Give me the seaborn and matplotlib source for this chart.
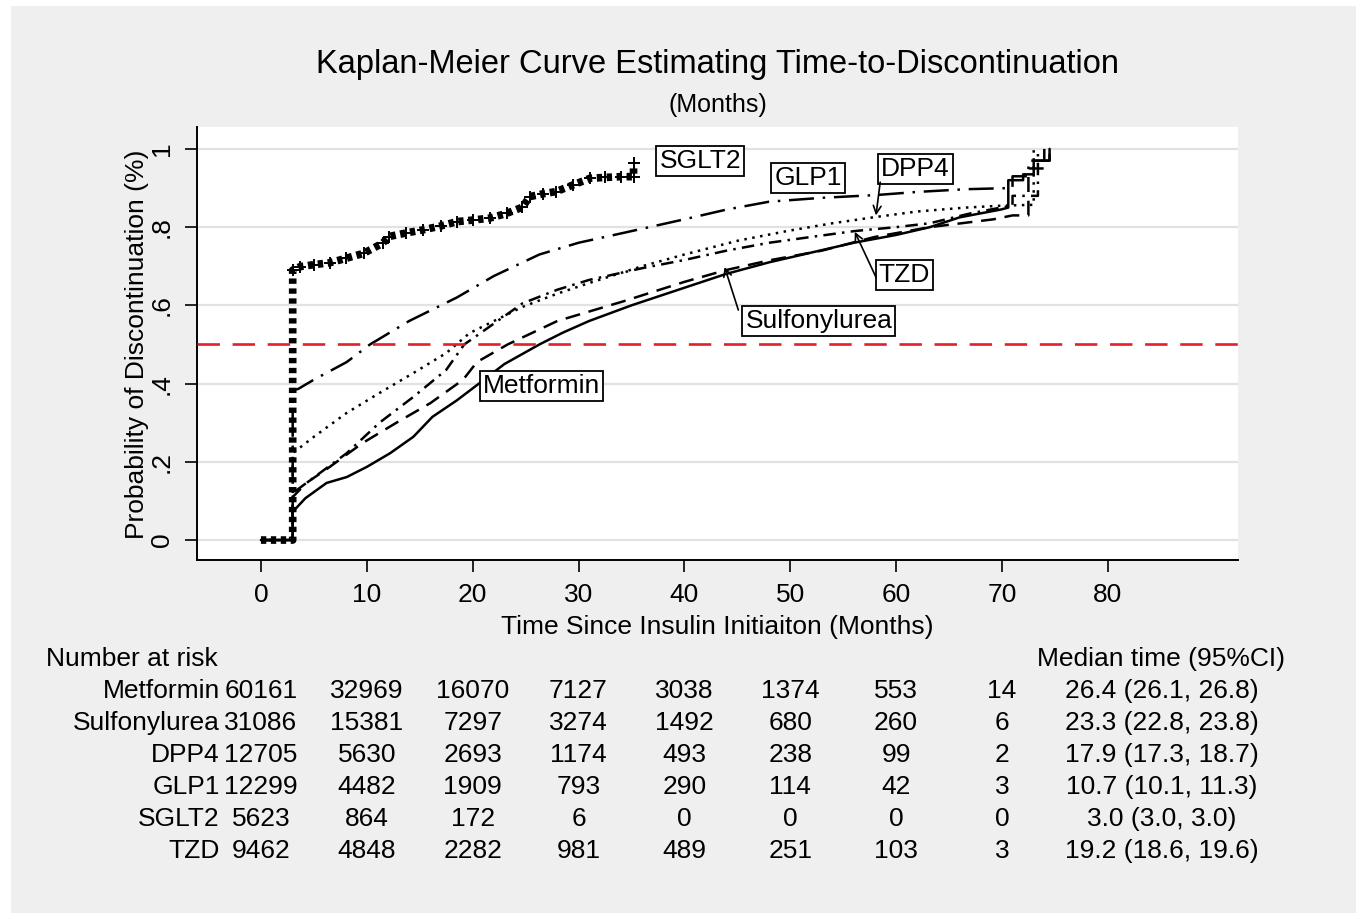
import matplotlib
matplotlib.use("Agg")
import matplotlib.pyplot as plt
import matplotlib.transforms as mtransforms
from matplotlib.patches import Rectangle
import seaborn as sns

sns.set_theme(style="white")
plt.rcParams['font.family'] = ['Liberation Sans', 'DejaVu Sans']
plt.rcParams.update({'text.color': 'black', 'axes.labelcolor': 'black',
                     'xtick.color': 'black', 'ytick.color': 'black'})

# ---- curves (months, cumulative probability) ----
metformin_t = [0, 3, 3, 4.2, 6.2, 8.1, 10, 12.2, 14.4, 16.2, 18.5, 20.4, 23, 26.3, 28.5, 31, 35,
               40, 43.9, 48, 52, 56, 60, 63.2, 66, 69.9, 70.6, 70.6, 72, 72, 73, 73, 74.5, 74.5]
metformin_p = [0, 0, 0.072, 0.107, 0.146, 0.161, 0.187, 0.222, 0.264, 0.315, 0.357, 0.396, 0.45,
               0.50, 0.53, 0.56, 0.60, 0.645, 0.68, 0.71, 0.735, 0.76, 0.78, 0.80, 0.825, 0.845,
               0.85, 0.92, 0.92, 0.935, 0.935, 0.97, 0.97, 1.0]

sulfo_t = [0, 3, 3, 4.3, 6.5, 9.6, 12.8, 16, 19.1, 20.4, 23.3, 28, 34.2, 40, 43.9, 48, 53, 58,
           63.2, 69.2, 71, 72.5, 72.5, 74, 74]
sulfo_p = [0, 0, 0.11, 0.146, 0.187, 0.248, 0.30, 0.35, 0.41, 0.455, 0.50, 0.56, 0.61, 0.66,
           0.69, 0.715, 0.74, 0.775, 0.80, 0.82, 0.83, 0.83, 0.95, 0.95, 1.0]

dpp4_t = [0, 3, 3, 5, 8.1, 11.2, 14.4, 17.5, 19.7, 24.7, 28, 31, 36, 40, 45, 49.7, 54, 58.1,
          62, 66.6, 70, 73, 73]
dpp4_p = [0, 0, 0.222, 0.264, 0.325, 0.376, 0.427, 0.478, 0.529, 0.596, 0.63, 0.657, 0.70,
          0.73, 0.765, 0.79, 0.81, 0.826, 0.84, 0.85, 0.855, 0.857, 1.0]

glp1_t = [0, 3, 3, 3.5, 5, 8.1, 10.3, 14, 18.5, 22, 26.3, 30, 34.2, 40, 44, 48, 53, 58.1, 62,
          66.6, 71, 71, 72.5, 72.5, 74.5, 74.5]
glp1_p = [0, 0, 0.384, 0.386, 0.41, 0.455, 0.50, 0.56, 0.62, 0.675, 0.73, 0.76, 0.785, 0.82,
          0.845, 0.865, 0.875, 0.882, 0.89, 0.897, 0.90, 0.93, 0.93, 0.97, 0.97, 1.0]

tzd_t = [0, 3, 3, 5, 8.1, 11.2, 14.4, 17.5, 19.2, 20, 24.7, 28, 31, 36, 40, 44, 48, 52,
         56.1, 60, 63.2, 67, 69.9, 71, 71, 73.4, 73.4]
tzd_p = [0, 0, 0.12, 0.16, 0.222, 0.30, 0.366, 0.435, 0.50, 0.515, 0.605, 0.64, 0.665,
         0.695, 0.716, 0.74, 0.76, 0.775, 0.79, 0.80, 0.81, 0.835, 0.85, 0.855, 0.88, 0.88, 1.0]

sglt2_t = [0, 1.5, 3, 3, 3.7, 5, 6.5, 8, 9.7, 11.5, 12.1, 13.7, 15.3, 17, 18.5, 20, 21.6, 23.2,
           24.7, 25.4, 26.6, 27.9, 29.5, 31.1, 32.5, 34, 35.2, 35.2]
sglt2_p = [0, 0, 0, 0.69, 0.699, 0.704, 0.709, 0.72, 0.733, 0.759, 0.776, 0.785, 0.793, 0.803,
           0.814, 0.818, 0.823, 0.835, 0.851, 0.878, 0.885, 0.891, 0.908, 0.925, 0.927, 0.929,
           0.929, 0.963]

median_level = 0.5

# ---- number-at-risk table ----
risk_times = [0, 10, 20, 30, 40, 50, 60, 70]
risk_groups = ['Metformin', 'Sulfonylurea', 'DPP4', 'GLP1', 'SGLT2', 'TZD']
risk_metformin = [60161, 32969, 16070, 7127, 3038, 1374, 553, 14]
risk_sulfo = [31086, 15381, 7297, 3274, 1492, 680, 260, 6]
risk_dpp4 = [12705, 5630, 2693, 1174, 493, 238, 99, 2]
risk_glp1 = [12299, 4482, 1909, 793, 290, 114, 42, 3]
risk_sglt2 = [5623, 864, 172, 6, 0, 0, 0, 0]
risk_tzd = [9462, 4848, 2282, 981, 489, 251, 103, 3]
median_ci = ['26.4 (26.1, 26.8)', '23.3 (22.8, 23.8)', '17.9 (17.3, 18.7)',
             '10.7 (10.1, 11.3)', '3.0 (3.0, 3.0)', '19.2 (18.6, 19.6)']

W, H = 1356, 913
fig = plt.figure(figsize=(W / 100, H / 100), dpi=100, facecolor='white')
fig.patches.append(Rectangle((11 / W, 0), 1 - 11 / W, 1 - 6 / H, transform=fig.transFigure,
                             fc='#efefef', ec='none', zorder=-10))
ax = fig.add_axes([197 / W, 1 - 560 / H, (1238 - 197) / W, (560 - 127) / H])
ax.set_facecolor('white')

# gridlines
for yv in [0, 0.2, 0.4, 0.6, 0.8, 1.0]:
    ax.axhline(yv, color='#e2e2e2', linewidth=1.6, zorder=0)

lw = 1.8
curves = [
    (metformin_t, metformin_p, '-'),
    (sulfo_t, sulfo_p, (0, (6, 3.5))),
    (dpp4_t, dpp4_p, (0, (1, 2.2))),
    (glp1_t, glp1_p, (0, (10, 3.5, 1, 3.5))),
    (tzd_t, tzd_p, (0, (5, 2.5, 1, 2.5))),
]
for t, p, ls in curves:
    sns.lineplot(x=t, y=p, ax=ax, sort=False, estimator=None, color='black', linewidth=lw,
                 linestyle=ls, zorder=3)

# SGLT2: heavy square-dotted line with censoring crosses
sns.lineplot(x=sglt2_t, y=sglt2_p, ax=ax, sort=False, estimator=None, color='black',
             linewidth=5.5, zorder=4)
sg = ax.lines[-1]
sg.set_linewidth(5.5)
sg.set_dash_capstyle('butt')
sg.set_dashes((0.7, 0.6))
sns.lineplot(x=sglt2_t[3:-1], y=sglt2_p[3:-1], ax=ax, sort=False, estimator=None,
             color='black', linewidth=0, marker='+', markersize=9, markeredgewidth=1.4,
             markeredgecolor='black', zorder=4)
ax.plot(sglt2_t[-1:], sglt2_p[-1:], marker='+', ms=9, mew=1.4, color='black', zorder=4)

ax.axhline(median_level, color='#e3202a', linewidth=1.9, linestyle=(0, (8.5, 4.8)), zorder=5)

ax.set_xlim(-6.04, 92.3)
ax.set_ylim(-0.051, 1.056)
ax.set_xticks(range(0, 81, 10))
ax.set_yticks([0, 0.2, 0.4, 0.6, 0.8, 1.0])
ax.set_yticklabels(['0', '.2', '.4', '.6', '.8', '1'], rotation=90, va='center')
ax.tick_params(axis='both', which='major', direction='out', length=8.5, width=1.2,
               color='black', labelsize=19, pad=8, left=True, bottom=True)
for side in ['top', 'right']:
    ax.spines[side].set_visible(False)
for side in ['left', 'bottom']:
    ax.spines[side].set_color('black')
    ax.spines[side].set_linewidth(1.4)

ax.set_xlabel('Time Since Insulin Initiaiton (Months)', fontsize=19)
ax.xaxis.set_label_coords(0.5, (560 - 627) / 433)
ax.xaxis.label.set_va('center')
ax.set_ylabel('Probability of Discontinuation (%)', fontsize=19)
ax.yaxis.set_label_coords((137 - 197) / 1041, 0.5 + (560 - 344 - 216.5) / 433)
ax.yaxis.label.set_va('center')

# labels on curves
box = dict(boxstyle='square,pad=0.12', fc='white', ec='black', lw=1.3)
labels = [('SGLT2', 41.5, 0.969), ('GLP1', 51.7, 0.926), ('DPP4', 61.8, 0.949),
          ('TZD', 60.8, 0.678), ('Sulfonylurea', 52.7, 0.56), ('Metformin', 26.5, 0.394)]
for txt, lx, ly in labels:
    ax.text(lx, ly, txt, fontsize=19, ha='center', va='center', bbox=box, zorder=6)

arrows = [((58.5, 0.915), (58.1, 0.83)), ((58.1, 0.672), (56.1, 0.788)),
          ((45.1, 0.588), (43.8, 0.698))]
for start, end in arrows:
    ax.annotate('', xy=end, xytext=start,
                arrowprops=dict(arrowstyle='->', color='black', lw=1.2,
                                shrinkA=0, shrinkB=0, mutation_scale=14), zorder=6)

# titles
xc = (197 + 1238) / 2 / W
fig.text(xc, 1 - 64 / H, 'Kaplan-Meier Curve Estimating Time-to-Discontinuation',
         fontsize=23.5, ha='center', va='center')
fig.text(xc, 1 - 105 / H, '(Months)', fontsize=18, ha='center', va='center')

# number at risk table
trans = mtransforms.blended_transform_factory(ax.transData, fig.transFigure)
fig.text(46 / W, 1 - 659 / H, 'Number at risk', fontsize=19, ha='left', va='center')
ax.text(85.0, 1 - 659 / H, 'Median time (95%CI)', fontsize=19, ha='center', va='center',
        transform=trans, clip_on=False)
rows = [risk_metformin, risk_sulfo, risk_dpp4, risk_glp1, risk_sglt2, risk_tzd]
row_y = [691, 723, 755, 787, 819, 851]
for name, vals, med, ry in zip(risk_groups, rows, median_ci, row_y):
    fy = 1 - ry / H
    ax.text(-3.9, fy, name, fontsize=19, ha='right', va='center', transform=trans,
            clip_on=False)
    for tt, v in zip(risk_times, vals):
        ax.text(tt, fy, str(v), fontsize=19, ha='center', va='center', transform=trans,
                clip_on=False)
    ax.text(85.1, fy, med, fontsize=19, ha='center', va='center', transform=trans,
            clip_on=False)

fig.savefig('out.png', dpi=100, facecolor=fig.get_facecolor())
